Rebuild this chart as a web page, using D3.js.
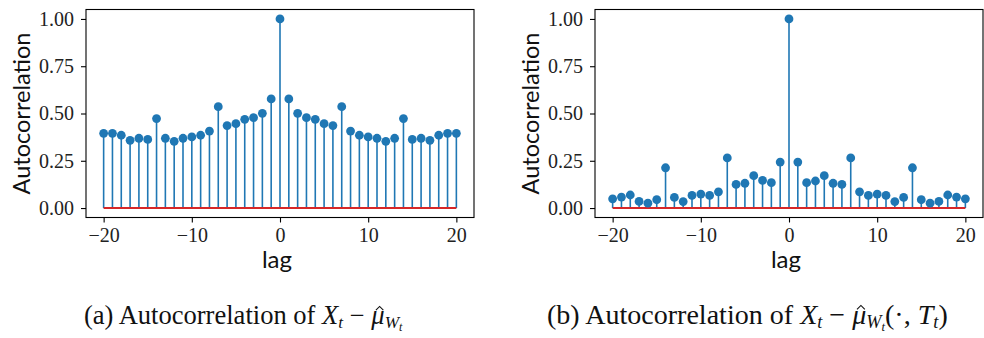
<!DOCTYPE html>
<html>
<head>
<meta charset="utf-8">
<script src="https://cdn.jsdelivr.net/npm/d3@7"></script>
<style>
  html, body { margin: 0; padding: 0; background: #ffffff; }
  svg { display: block; }
</style>
</head>
<body>
<svg id="chart" width="984" height="338"></svg>
<script>
// ---- data ----
const lags = [-20,-19,-18,-17,-16,-15,-14,-13,-12,-11,-10,-9,-8,-7,-6,-5,-4,-3,-2,-1,0,
              1,2,3,4,5,6,7,8,9,10,11,12,13,14,15,16,17,18,19,20];
const acfA = [0.395,0.395,0.385,0.358,0.369,0.363,0.473,0.369,0.353,0.369,0.376,0.385,0.407,0.536,0.436,0.446,0.469,0.478,0.501,0.577,
              1.000,
              0.577,0.501,0.478,0.469,0.446,0.436,0.536,0.407,0.385,0.376,0.369,0.353,0.369,0.473,0.363,0.369,0.358,0.385,0.395,0.395];
const acfB = [0.049,0.058,0.069,0.035,0.026,0.044,0.213,0.056,0.034,0.067,0.074,0.067,0.086,0.265,0.125,0.131,0.171,0.146,0.134,0.243,
              1.000,
              0.243,0.134,0.143,0.171,0.131,0.125,0.265,0.086,0.067,0.074,0.067,0.034,0.056,0.213,0.044,0.026,0.035,0.069,0.058,0.049];
const xTicks = [-20,-10,0,10,20];
const yTicks = [0.00,0.25,0.50,0.75,1.00];
const yLabel = "Autocorrelation";
const xLabel = "lag";

const svg = d3.select("#chart");

function drawPanel(left, values) {
  const box = {x0: left, x1: left + 388, y0: 9.5, y1: 217.5};
  const x = d3.scaleLinear().domain([-22, 22]).range([box.x0, box.x1]);
  const y = d3.scaleLinear().domain([-0.05, 1.05]).range([box.y1, box.y0]);
  const g = svg.append("g");

  g.selectAll("line.stem").data(lags).enter().append("line")
    .attr("class","stem")
    .attr("x1", d => x(d)).attr("x2", d => x(d))
    .attr("y1", y(0)).attr("y2", (d,i) => y(values[i]))
    .attr("stroke", "#1f77b4").attr("stroke-width", 1.6);

  g.append("line")
    .attr("x1", x(lags[0])).attr("x2", x(lags[lags.length-1]))
    .attr("y1", y(0)).attr("y2", y(0))
    .attr("stroke", "#d62728").attr("stroke-width", 2);

  g.selectAll("circle").data(lags).enter().append("circle")
    .attr("cx", d => x(d)).attr("cy", (d,i) => y(values[i]))
    .attr("r", 4.4).attr("fill", "#1f77b4");

  const ax = g.append("g").attr("transform", `translate(0,${box.y1})`)
    .call(d3.axisBottom(x).tickValues(xTicks).tickFormat(d3.format("d")).tickSize(5).tickPadding(5).tickSizeOuter(0));
  const ay = g.append("g").attr("transform", `translate(${box.x0},0)`)
    .call(d3.axisLeft(y).tickValues(yTicks).tickFormat(d3.format(".2f")).tickSize(5).tickPadding(7).tickSizeOuter(0));
  [ax, ay].forEach(a => {
    a.select(".domain").remove();
    a.selectAll(".tick line").attr("stroke", "#000").attr("stroke-width", 1.1);
    a.selectAll(".tick text").attr("font-family", "'Liberation Serif', serif")
      .attr("font-size", 20).attr("fill", "#222");
  });

  g.append("rect")
    .attr("x", box.x0).attr("y", box.y0)
    .attr("width", box.x1 - box.x0).attr("height", box.y1 - box.y0)
    .attr("fill", "none").attr("stroke", "#000").attr("stroke-width", 1.1);

  const yl = g.append("text")
    .attr("transform", `translate(${box.x0 - 56},${(box.y0 + box.y1)/2}) rotate(-90)`)
    .attr("text-anchor", "middle")
    .attr("font-family", "Lato, 'DejaVu Sans', sans-serif").attr("font-size", 24)
    .attr("fill", "#111").text(yLabel);
  const w = yl.node().getComputedTextLength();
  yl.attr("font-size", 24 * 162 / w);

  g.append("text")
    .attr("x", x(0) - 3).attr("y", 268)
    .attr("text-anchor", "middle")
    .attr("font-family", "Lato, 'DejaVu Sans', sans-serif").attr("font-size", 24)
    .attr("fill", "#111").text(xLabel);
}

drawPanel(86, acfA);
drawPanel(595, acfB);

// captions
function caption(xStart, targetW, prefix, extra) {
  const g = svg.append("g");
  const base = 324;
  const t = g.append("text").attr("x", xStart).attr("y", base)
    .attr("font-family", "'Liberation Serif', 'DejaVu Serif', serif")
    .attr("font-size", 22).attr("fill", "#111");
  t.append("tspan").text(prefix + " Autocorrelation of ");
  t.append("tspan").attr("font-style", "italic").text("X");
  t.append("tspan").attr("font-style", "italic").attr("font-size", "65%").attr("dy", 4).text("t");
  t.append("tspan").attr("dy", -4).text(" \u2212 ");
  t.append("tspan").attr("font-style", "italic").text("\u03BC");
  t.append("tspan").attr("font-style", "italic").attr("font-size", "65%").attr("dy", 4).text("W");
  t.append("tspan").attr("font-style", "italic").attr("font-size", "45%").attr("dy", 3).text("t");
  if (extra) {
    t.append("tspan").attr("dy", -7).text("(\u00B7, ");
    t.append("tspan").attr("font-style", "italic").text("T");
    t.append("tspan").attr("font-style", "italic").attr("font-size", "65%").attr("dy", 4).text("t");
    t.append("tspan").attr("dy", -4).text(")");
  }
  const bw = t.node().getBBox().width;
  const fs = 22 * targetW / bw;
  t.attr("font-size", fs);
  const ext = t.node().getExtentOfChar(t.node().textContent.indexOf("\u03BC"));
  const cx = ext.x + ext.width / 2 + fs * 0.06;
  const hw = fs * 0.14;
  g.append("path")
    .attr("d", `M${cx - hw},${base - fs * 0.52} L${cx},${base - fs * 0.66} L${cx + hw},${base - fs * 0.52}`)
    .attr("fill", "none").attr("stroke", "#111").attr("stroke-width", 1.1)
    .attr("stroke-linejoin", "miter");
}
caption(84, 319, "(a)", false);
caption(547, 401, "(b)", true);
</script>
</body>
</html>
